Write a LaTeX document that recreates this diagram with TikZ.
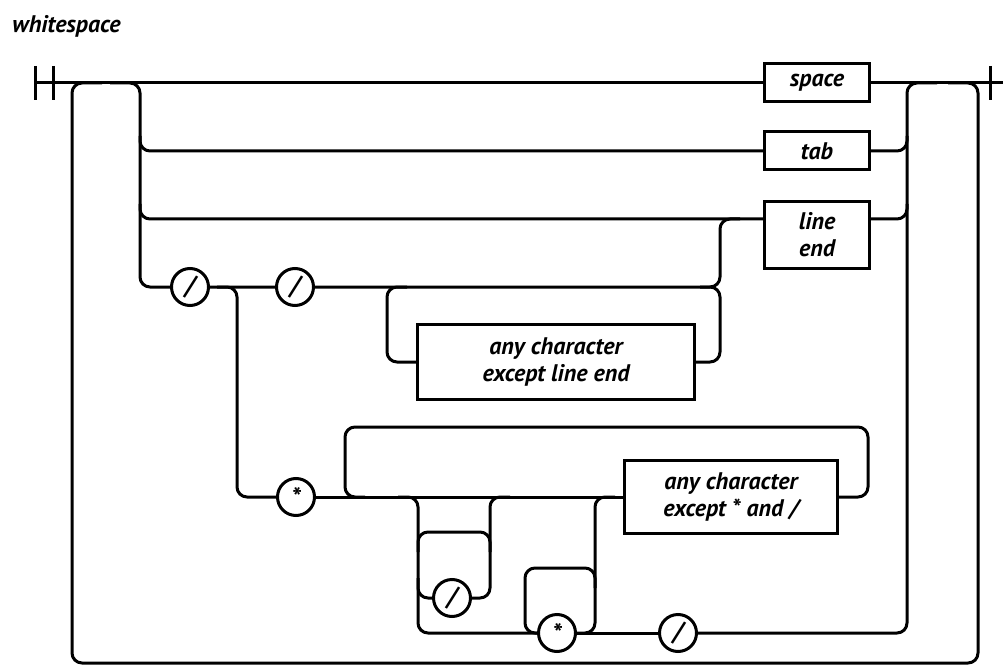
\documentclass[tikz,border=0pt]{standalone}
\usepackage{fontspec}
\setmainfont{PT Sans}
\usetikzlibrary{calc, positioning}

\begin{document}
\begin{tikzpicture}[x=1pt, y=-1pt, line width=3pt, rounded corners=10pt]
        % 定義方塊、圓圈的樣式
        \tikzstyle{charbox} = [rectangle, rounded corners=0pt, draw=black, fill=white, align=center, inner sep=0pt, font=\bfseries\itshape\fontsize{24}{27}\selectfont]
        \tikzstyle{literal} = [circle, draw=black, fill=white, minimum size=37pt, inner sep=0pt, font=\bfseries\itshape\fontsize{26}{26}\selectfont]
        \tikzstyle{bar} = [rounded corners=0pt]

        \useasboundingbox (0,0) rectangle (1003,668);

        % 標題
        \node (title) [anchor=west, inner sep=0pt, font=\bfseries\itshape\fontsize{24}{28}\selectfont] at (11,26) {whitespace};

        % 軌道上的位置
        \coordinate (start) at (35,83);
        \coordinate (finish) at (1003,83);
        \coordinate (loopL) at (72,83);
        \coordinate (loopR) at (978,83);
        \coordinate (split) at (140,83);
        \coordinate (merge) at (907,83);
        \coordinate (eolRow) at (0,219);
        \coordinate (fork) at (237,287);
        \coordinate (eolLoop) at (387,287);
        \coordinate (eolRise) at (720,287);
        \coordinate (cmtLoop) at (345,497);
        \coordinate (cmtDrop) at (418,497);
        \coordinate (cmtUp) at (490,497);
        \coordinate (cmtRise) at (595,497);
        \coordinate (innerTop) at (418,532);
        \coordinate (starTop) at (525,568);

        % 方塊
        \node (space) [charbox, minimum width=105pt, minimum height=38pt] at (817,83) {space};
        \node (tab) [charbox, minimum width=105pt, minimum height=38pt] at (817,151) {tab};
        \node (lineend) [charbox, minimum width=105pt, minimum height=67pt, anchor=north] at (817,200) {line\\end};
        \node (anyline) [charbox, minimum width=277pt, minimum height=75pt] at (556,362) {any character\\except line end};
        \node (anystar) [charbox, minimum width=213pt, minimum height=73pt] at (731,497) {any character\\except * and /};

        % 圓圈
        \node (slashA) [literal] at (190,287) {/};
        \node (slashB) [literal] at (295,287) {/};
        \node (starA) [literal] at (296,497) {*};
        \node (slashC) [literal] at (452,598) {/};
        \node (starB) [literal] at (557,633) {*};
        \node (slashD) [literal] at (678,633) {/};

        % 主線與兩端
        \draw (start) -- (space) -- (finish);
        \draw [bar] ($(start)+(0,-17)$) -- ($(start)+(0,17)$);
        \draw [bar] ($(start)+(18,-17)$) -- ($(start)+(18,17)$);
        \draw [bar] ($(loopR)+(12,-17)$) -- ($(loopR)+(12,17)$);

        % 外圈迴路
        \draw ($(loopL)+(30,0)$) -- (loopL) -- (72,663) -- (978,663) -- (loopR) -- ($(loopR)+(-30,0)$);

        % 分支
        \draw ($(split)+(-30,0)$) -- (split) -- (split |- slashA) -- (slashA);
        \draw ($(split |- tab)+(0,-15)$) -- (split |- tab) -- (tab);
        \draw ($(split |- eolRow)+(0,-15)$) -- (split |- eolRow) -- (lineend.west |- eolRow);

        % 合併
        \draw (tab) -- (merge |- tab) -- ($(merge |- tab)+(0,-15)$);
        \draw (lineend.east |- eolRow) -- (merge |- eolRow) -- ($(merge |- eolRow)+(0,-15)$);
        \draw (slashD) -- (merge |- slashD) -- (merge) -- ($(merge)+(30,0)$);

        % 單行註解
        \draw (slashA) -- (slashB) -- (eolRise) -- (eolRise |- eolRow) -- ($(eolRise |- eolRow)+(20,0)$);
        \draw ($(eolLoop)+(20,0)$) -- (eolLoop) -- (eolLoop |- anyline) -- (anyline);
        \draw (anyline) -- (eolRise |- anyline) -- (eolRise) -- ($(eolRise)+(-20,0)$);

        % 多行註解
        \draw ($(fork)+(-20,0)$) -- (fork) -- (fork |- starA) -- (starA);
        \draw (starA) -- (anystar);
        \draw ($(cmtLoop)+(20,0)$) -- (cmtLoop) -- (345,427) -- (868,427) -- (868,497) -- (anystar);
        \draw ($(cmtDrop)+(-20,0)$) -- (cmtDrop) -- (cmtDrop |- starB) -- (starB);
        \draw ($(innerTop)+(0,20)$) -- (innerTop) -- (innerTop -| cmtUp) -- ($(innerTop -| cmtUp)+(0,20)$);
        \draw (slashC) -- (cmtUp |- slashC) -- (cmtUp) -- ($(cmtUp)+(20,0)$);
        \draw (slashC) -- (cmtDrop |- slashC) -- ($(cmtDrop |- slashC)+(0,-20)$);
        \draw (starB) -- (starTop |- starB) -- (starTop) -- (starTop -| cmtRise) -- ($(starTop -| cmtRise)+(0,20)$);
        \draw (starB) -- (cmtRise |- starB) -- (cmtRise) -- ($(cmtRise)+(20,0)$);
        \draw (starB) -- (slashD);

    \end{tikzpicture}
\end{document}
